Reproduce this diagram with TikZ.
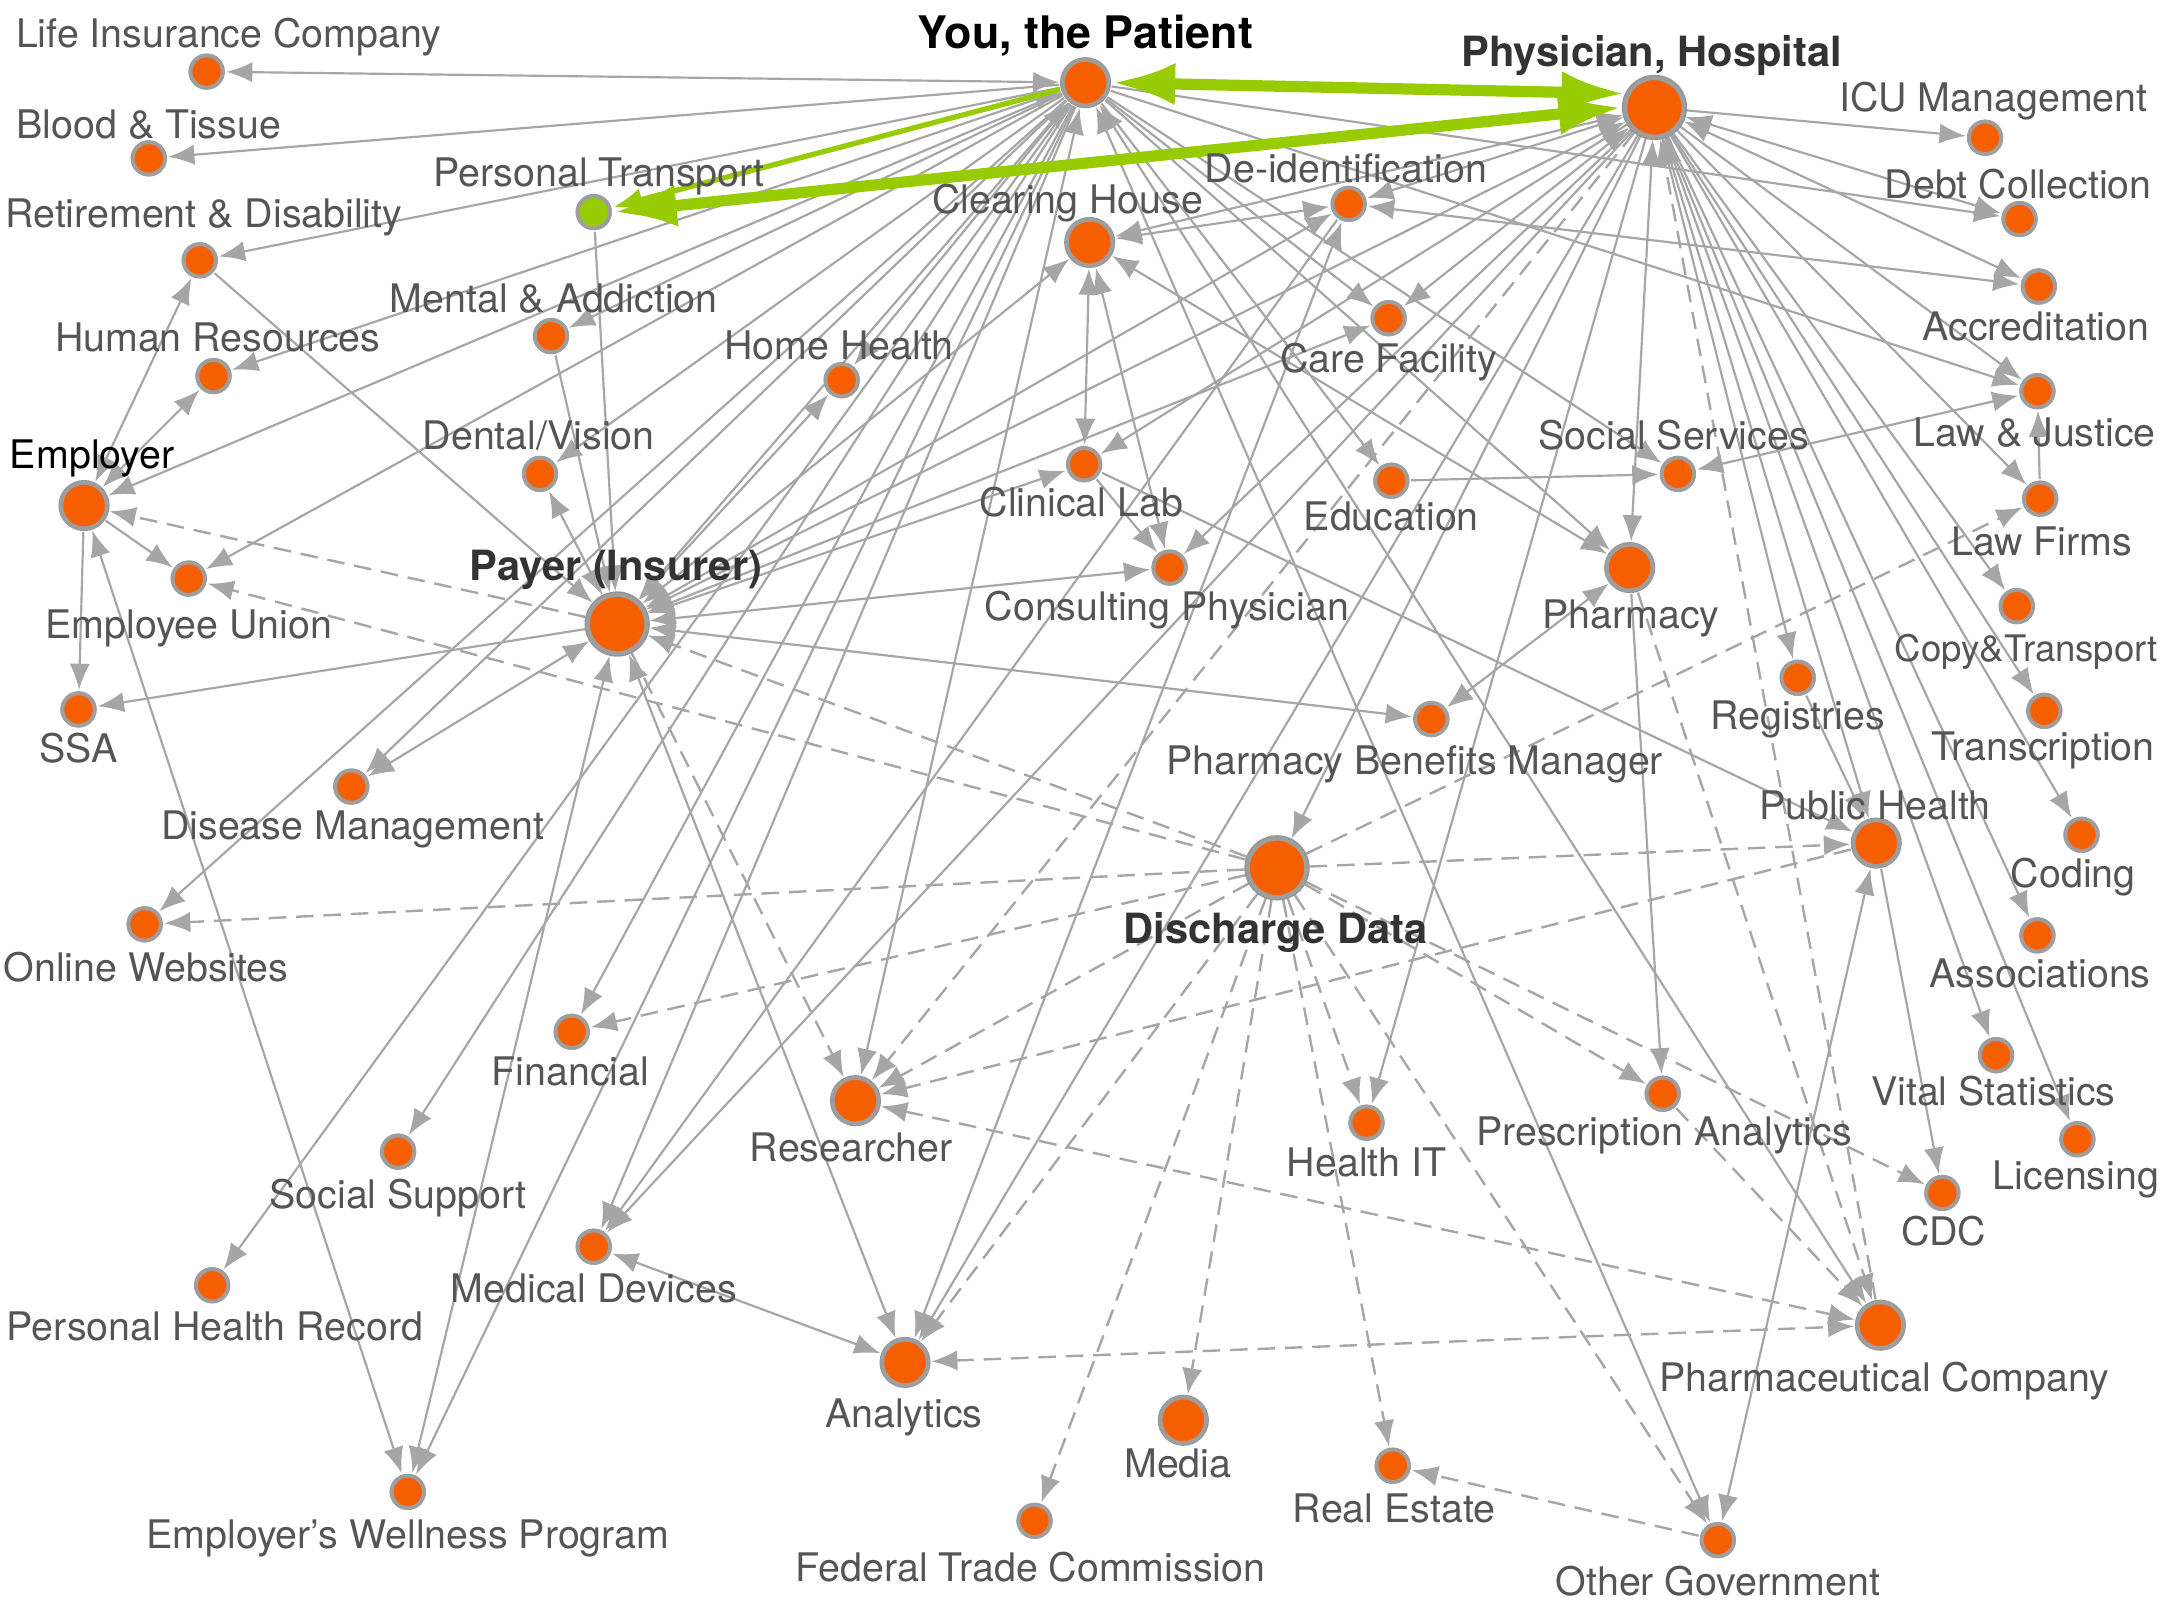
\documentclass[tikz,border=0pt]{standalone}
\usepackage{fontspec}
\setmainfont{TeX Gyre Heros}
\usetikzlibrary{arrows.meta,shadows,backgrounds}
\definecolor{og}{HTML}{F55F00}
\definecolor{gr}{HTML}{97CC04}
\definecolor{ln}{HTML}{A6A6A6}
\definecolor{rim}{HTML}{9E9E9E}
\definecolor{txt}{HTML}{555555}
\tikzset{
  vtx/.style={circle,draw=rim,line width=1.1pt,fill=og,inner sep=0pt,outer sep=1pt,
    drop shadow={shadow xshift=0pt,shadow yshift=0pt,shadow scale=1.12,fill=black!75,opacity=.55}},
  sm/.style={vtx,minimum size=9.2pt},
  md/.style={vtx,minimum size=13pt},
  bg/.style={vtx,minimum size=16.6pt},
  gn/.style={sm,fill=gr},
  lab/.style={font=\fontsize{11.2pt}{13pt}\selectfont,text=txt,inner sep=0pt,text height=8pt,text depth=2.2pt,yshift=-1.1pt},
  labs/.style={lab,font=\fontsize{10.4pt}{13pt}\selectfont},
  labb/.style={font=\fontsize{11.85pt}{13pt}\selectfont\bfseries,text=black!80,inner sep=0pt,text height=8pt,text depth=2.2pt,yshift=-1.1pt},
  labk/.style={font=\fontsize{12.75pt}{14pt}\selectfont\bfseries,text=black,inner sep=0pt,text height=8pt,text depth=2.2pt,yshift=-1.1pt},
  labe/.style={lab,text=black},
  edge/.style={draw=ln,line width=.62pt,>={Latex[length=7.4pt,width=5.8pt]}},
  dsh/.style={edge,dash pattern=on 5pt off 2.8pt,line width=.68pt},
  gthick/.style={draw=gr,line width=3.2pt,>={Latex[length=18pt,width=12pt]}},
  gthin/.style={draw=gr,line width=1.5pt,>={Latex[length=8.5pt,width=6.5pt]}},
}
\newcommand{\vt}[8]{\node[#4] (#1) at (#2,#3) {}; \node[#8] (#1-l) at (#5,#6) {#7};}
\begin{document}
\begin{tikzpicture}[x=0.0137755cm,y=-0.0137755cm]
\useasboundingbox (0,0) rectangle (1568,1176);
\vt{you}{788}{60}{md}{788}{25}{You, the Patient}{labk}
\vt{phys}{1201}{78}{bg}{1199}{38}{Physician, Hospital}{labb}
\vt{trans}{431}{154}{gn}{435}{125}{Personal Transport}{lab}
\vt{life}{150}{52}{sm}{166}{24}{Life Insurance Company}{lab}
\vt{blood}{108}{115}{sm}{108}{90}{Blood \& Tissue}{lab}
\vt{retire}{145}{189}{sm}{148}{155}{Retirement \& Disability}{lab}
\vt{hr}{155}{273}{sm}{158}{245}{Human Resources}{lab}
\vt{mental}{400}{244}{sm}{402}{217}{Mental \& Addiction}{lab}
\vt{hh}{611}{276}{sm}{609}{251}{Home Health}{lab}
\vt{dental}{392}{344}{sm}{391}{316}{Dental/Vision}{lab}
\vt{emp}{61}{367}{md}{67}{330}{Employer}{labe}
\vt{union}{137}{420}{sm}{137}{453}{Employee Union}{lab}
\vt{pay}{448}{453}{bg}{447}{411}{Payer (Insurer)}{labb}
\vt{ssa}{57}{515}{sm}{57}{543}{SSA}{lab}
\vt{disease}{255}{571}{sm}{256}{599}{Disease Management}{lab}
\vt{online}{105}{671}{sm}{106}{702}{Online Websites}{lab}
\vt{fin}{415}{749}{sm}{414}{778}{Financial}{lab}
\vt{social}{289}{836}{sm}{289}{867}{Social Support}{lab}
\vt{phr}{154}{933}{sm}{156}{963}{Personal Health Record}{lab}
\vt{med}{431}{905}{sm}{431}{935}{Medical Devices}{lab}
\vt{res}{621}{799}{md}{618}{833}{Researcher}{lab}
\vt{ana}{657}{989}{md}{656}{1026}{Analytics}{lab}
\vt{well}{296}{1083}{sm}{296}{1114}{Employer’s Wellness Program}{lab}
\vt{ftc}{751}{1104}{sm}{748}{1138}{Federal Trade Commission}{lab}
\vt{media}{859}{1031}{md}{855}{1062}{Media}{lab}
\vt{real}{1011}{1064}{sm}{1012}{1095}{Real Estate}{lab}
\vt{other}{1247}{1118}{sm}{1247}{1148}{Other Government}{lab}
\vt{clear}{791}{176}{md}{775}{145}{Clearing House}{lab}
\vt{deid}{979}{148}{sm}{977}{122}{De-identification}{lab}
\vt{care}{1008}{231}{sm}{1008}{260}{Care Facility}{lab}
\vt{clin}{787}{337}{sm}{785}{365}{Clinical Lab}{lab}
\vt{cons}{849}{412}{sm}{847}{440}{Consulting Physician}{lab}
\vt{edu}{1010}{349}{sm}{1010}{375}{Education}{lab}
\vt{socsvc}{1218}{344}{sm}{1215}{316}{Social Services}{lab}
\vt{pharm}{1183}{412}{md}{1184}{446}{Pharmacy}{lab}
\vt{pbm}{1039}{522}{sm}{1027}{552}{Pharmacy Benefits Manager}{lab}
\vt{dis}{927}{630}{bg}{926}{675}{Discharge Data}{labb}
\vt{ph}{1362}{612}{md}{1361}{585}{Public Health}{lab}
\vt{reg}{1305}{492}{sm}{1305}{519}{Registries}{lab}
\vt{icu}{1441}{100}{sm}{1447}{71}{ICU Management}{lab}
\vt{debt}{1466}{159}{sm}{1465}{134}{Debt Collection}{lab}
\vt{acc}{1480}{208}{sm}{1478}{237}{Accreditation}{lab}
\vt{law}{1479}{284}{sm}{1477}{314}{Law \& Justice}{lab}
\vt{firms}{1481}{362}{sm}{1482}{393}{Law Firms}{lab}
\vt{copy}{1464}{440}{sm}{1471}{470}{Copy\&Transport}{labs}
\vt{tr}{1484}{516}{sm}{1483}{542}{Transcription}{lab}
\vt{coding}{1511}{606}{sm}{1505}{634}{Coding}{lab}
\vt{assoc}{1479}{679}{sm}{1481}{707}{Associations}{lab}
\vt{vital}{1449}{766}{sm}{1447}{792}{Vital Statistics}{lab}
\vt{lic}{1508}{827}{sm}{1507}{853}{Licensing}{lab}
\vt{cdc}{1410}{866}{sm}{1411}{894}{CDC}{lab}
\vt{pco}{1365}{962}{md}{1368}{1000}{Pharmaceutical Company}{lab}
\vt{presc}{1207}{794}{sm}{1208}{821}{Prescription Analytics}{lab}
\vt{hit}{992}{815}{sm}{992}{844}{Health IT}{lab}
\begin{scope}[on background layer]
\foreach \a/\b in {you/blood,you/retire,you/mental,you/emp,you/union,you/dental,you/hh,you/disease,you/online,you/social,you/phr,you/fin,you/med,you/well,you/care,you/edu,you/socsvc,you/pharm,you/debt,you/law,
 retire/pay,mental/pay,trans/pay,pay/ssa,
 phys/icu,phys/law,phys/firms,phys/copy,phys/tr,phys/coding,phys/assoc,phys/vital,phys/lic,phys/reg,phys/hit,phys/dis,phys/med,phys/ana,phys/clin,phys/cons,
 clin/cons,clin/ph,edu/socsvc,firms/law,reg/ph,ph/cdc,pharm/presc,deid/med,emp/union,emp/ssa}
  \draw[edge,->] (\a) -- (\b);
\foreach \a/\b in {you/life,you/hr,you/pay,you/res,you/other,you/pco,
 pay/dental,pay/hh,pay/disease,pay/ana,pay/well,pay/clear,pay/deid,pay/care,pay/clin,pay/cons,pay/phys,pay/pbm,
 clear/clin,clear/cons,clear/pharm,deid/clear,phys/clear,deid/ana,phys/deid,deid/acc,phys/care,socsvc/law,
 phys/debt,phys/acc,phys/ph,phys/pharm,other/ph,pbm/pharm,emp/retire,emp/hr,emp/well,med/ana}
  \draw[edge,<->] (\a) -- (\b);
\foreach \a/\b in {dis/pay,dis/union,dis/online,dis/fin,dis/res,dis/ana,dis/ftc,dis/media,dis/real,dis/other,dis/hit,dis/presc,dis/cdc,dis/ph,dis/firms,
 pay/emp,pay/res,phys/res,ph/res,pharm/pco,presc/pco,pco/phys,other/real}
  \draw[dsh,->] (\a) -- (\b);
\foreach \a/\b in {res/pco,ana/pco}
  \draw[dsh,<->] (\a) -- (\b);
\draw[gthin,->] (you) -- (trans);
\draw[gthick,<->] (you.east) -- (phys.155);
\draw[gthick,<->] (trans.east) -- (phys.west);
\end{scope}
\end{tikzpicture}
\end{document}
